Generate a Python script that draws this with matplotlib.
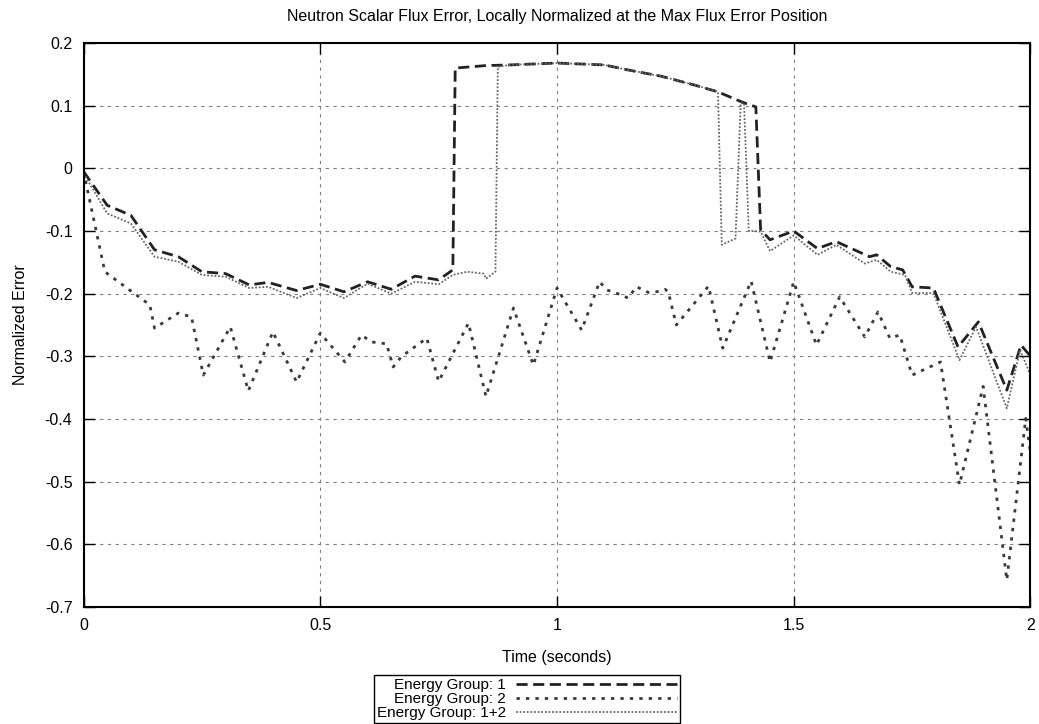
import numpy as np
import matplotlib
matplotlib.use('Agg')
import matplotlib.pyplot as plt
from matplotlib.ticker import FormatStrFormatter

plt.rcParams['font.family'] = ['Liberation Sans', 'DejaVu Sans']
plt.rcParams['axes.unicode_minus'] = False
plt.rcParams['font.size'] = 11.5

# energy group 1
t_g1 = [0.0, 0.05, 0.10, 0.15, 0.20, 0.25, 0.30, 0.35, 0.39, 0.45, 0.50,
        0.55, 0.60, 0.65, 0.70, 0.75, 0.78, 0.785, 0.85, 0.90, 1.00, 1.10,
        1.15, 1.22, 1.29, 1.34, 1.39, 1.42, 1.43, 1.45, 1.50, 1.55, 1.59,
        1.66, 1.675, 1.705, 1.73, 1.75, 1.795, 1.847, 1.89, 1.95, 1.98, 2.0]
err_g1 = [-0.005, -0.059, -0.075, -0.130, -0.141, -0.165, -0.168, -0.186,
          -0.182, -0.195, -0.185, -0.197, -0.181, -0.193, -0.172, -0.178,
          -0.162, 0.160, 0.164, 0.165, 0.168, 0.165, 0.157, 0.147, 0.133,
          0.122, 0.106, 0.098, -0.098, -0.114, -0.100, -0.128, -0.117,
          -0.141, -0.138, -0.157, -0.162, -0.189, -0.191, -0.285, -0.245,
          -0.354, -0.282, -0.300]

# energy group 2
t_g2 = [0.0, 0.045, 0.14, 0.15, 0.20, 0.228, 0.253, 0.31, 0.348, 0.40,
        0.45, 0.50, 0.552, 0.587, 0.608, 0.64, 0.654, 0.672, 0.725, 0.75,
        0.813, 0.85, 0.908, 0.95, 1.0, 1.052, 1.09, 1.105, 1.136, 1.15,
        1.168, 1.193, 1.21, 1.228, 1.235, 1.252, 1.32, 1.35, 1.41, 1.45,
        1.50, 1.548, 1.597, 1.65, 1.678, 1.703, 1.724, 1.75, 1.81, 1.85,
        1.90, 1.95, 1.99, 2.0]
err_g2 = [-0.005, -0.165, -0.218, -0.255, -0.231, -0.237, -0.330, -0.253,
          -0.355, -0.261, -0.341, -0.263, -0.309, -0.266, -0.277, -0.280,
          -0.317, -0.300, -0.271, -0.340, -0.247, -0.364, -0.223, -0.314,
          -0.191, -0.258, -0.181, -0.194, -0.202, -0.207, -0.189, -0.198,
          -0.197, -0.193, -0.197, -0.250, -0.188, -0.287, -0.180, -0.309,
          -0.181, -0.282, -0.205, -0.269, -0.229, -0.271, -0.266, -0.330,
          -0.309, -0.505, -0.348, -0.657, -0.399, -0.454]

# both groups combined
t_tot = [0.0, 0.05, 0.10, 0.15, 0.20, 0.25, 0.30, 0.35, 0.39, 0.45, 0.50,
         0.55, 0.60, 0.65, 0.70, 0.75, 0.78, 0.81, 0.845, 0.85, 0.87, 0.875,
         0.90, 1.00, 1.10, 1.15, 1.22, 1.29, 1.34, 1.348, 1.377, 1.388,
         1.395, 1.405, 1.414, 1.43, 1.45, 1.50, 1.55, 1.59, 1.65, 1.675,
         1.705, 1.735, 1.75, 1.795, 1.85, 1.885, 1.95, 1.978, 2.0]
err_tot = [-0.008, -0.072, -0.088, -0.141, -0.149, -0.170, -0.173, -0.191,
           -0.189, -0.207, -0.191, -0.207, -0.184, -0.200, -0.181, -0.185,
           -0.170, -0.165, -0.168, -0.176, -0.165, 0.162, 0.165, 0.168,
           0.165, 0.157, 0.147, 0.133, 0.122, -0.122, -0.112, 0.104, 0.104,
           -0.100, -0.100, -0.101, -0.132, -0.107, -0.138, -0.122, -0.152,
           -0.146, -0.165, -0.170, -0.199, -0.199, -0.306, -0.253, -0.383,
           -0.290, -0.330]

fig = plt.figure(figsize=(10.39, 7.24), dpi=100)
ax = fig.add_axes([0.0804, 0.1616, 0.9114, 0.779])

ax.plot(t_g1, err_g1, color='#222222', lw=2.0, ls=(0, (4, 2)),
        label='Energy Group: 1')
ax.plot(t_g2, err_g2, color='#3a3a3a', lw=2.0, ls=(0, (1.2, 2.2)),
        label='Energy Group: 2')
ax.plot(t_tot, err_tot, color='#666666', lw=1.3, ls=(0, (1, 1)),
        label='Energy Group: 1+2')

ax.set_xlim(0, 2)
ax.set_ylim(-0.7, 0.2)
ax.set_xticks([0, 0.5, 1, 1.5, 2])
ax.set_yticks(np.arange(-0.7, 0.21, 0.1))
ax.xaxis.set_major_formatter(FormatStrFormatter('%g'))
ax.yaxis.set_major_formatter(
    plt.FuncFormatter(lambda v, p: '%g' % (round(v, 1) + 0.0)))
ax.tick_params(direction='in', top=True, right=True, length=8, width=1,
               pad=8)
for s in ax.spines.values():
    s.set_linewidth(1.5)
ax.grid(True, color='#808080', lw=0.8, ls=(0, (3, 4)))

ax.set_title('Neutron Scalar Flux Error, Locally Normalized at the Max Flux Error Position',
             fontsize=11.5, pad=16)
ax.set_xlabel('Time (seconds)', labelpad=12)
ax.set_ylabel('Normalized Error', labelpad=12)

leg = ax.legend(loc='upper center', bbox_to_anchor=(0.507, 1 - 675 / 724),
                bbox_transform=fig.transFigure, borderaxespad=0,
                markerfirst=False, alignment='right', fancybox=False,
                shadow=False, framealpha=1, edgecolor='black', fontsize=11,
                handlelength=10.5, labelspacing=0.0, borderpad=0.2,
                handletextpad=0.7)
leg.get_frame().set_linewidth(1.0)

fig.savefig('out.png', dpi=100)
